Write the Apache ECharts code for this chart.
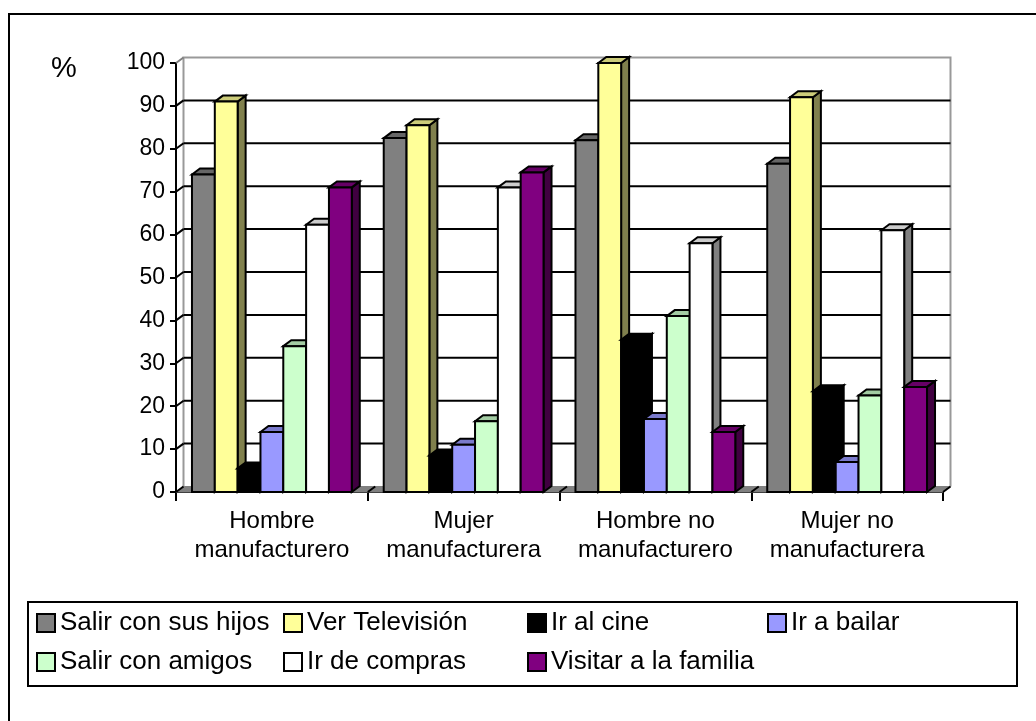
<!DOCTYPE html>
<html>
<head>
<meta charset="utf-8">
<style>html,body{margin:0;padding:0;background:#fff}#c{width:1036px;height:721px}</style>
<script src="https://cdn.jsdelivr.net/npm/echarts@6/dist/echarts.min.js"></script>
</head>
<body>
<div id="c"></div>
<script>
const categories = ['Hombre\nmanufacturero', 'Mujer\nmanufacturera', 'Hombre no\nmanufacturero', 'Mujer no\nmanufacturera'];
const yTicks = [0, 10, 20, 30, 40, 50, 60, 70, 80, 90, 100];
const seriesNames = ['Salir con sus hijos', 'Ver Televisión', 'Ir al cine', 'Ir a bailar', 'Salir con amigos', 'Ir de compras', 'Visitar a la familia'];
const salirHijos = [74, 82.5, 82, 76.5];
const verTele = [91, 85.5, 100, 92];
const irCine = [5.5, 8.5, 35.5, 23.5];
const irBailar = [14, 11, 17, 7];
const salirAmigos = [34, 16.5, 41, 22.5];
const irCompras = [62.3, 71, 58, 61];
const visitarFamilia = [71, 74.5, 14, 24.5];
const seriesValues = [salirHijos, verTele, irCine, irBailar, salirAmigos, irCompras, visitarFamilia];
const frontColors = ['#808080', '#FFFF99', '#000000', '#9999FF', '#CCFFCC', '#FFFFFF', '#800080'];
const topColors = ['#666666', '#CCCC7A', '#000000', '#7A7ACC', '#A3CCA3', '#CCCCCC', '#660066'];
const sideColors = ['#404040', '#80804D', '#000000', '#4D4D80', '#668066', '#808080', '#400040'];
const FONT = '"Liberation Sans", Arial, sans-serif';
const BAR_DX = 8, BAR_DY = 6, WALL_DX = 7.5, WALL_DY = 5.5;

function barItem(params, api) {
  const s = params.seriesIndex - 1;
  const cat = api.value(0), val = api.value(1);
  const band = api.size([1, 0])[0];
  const w = band / 8.4;
  const topC = api.coord([cat, val]);
  const baseC = api.coord([cat, 0]);
  const x0 = topC[0] - band / 2 + 0.7 * w + s * w;
  const x1 = x0 + w;
  const y0 = topC[1], yb = baseC[1];
  const st = c => ({ fill: c, stroke: '#000', lineWidth: 2 });
  return {
    type: 'group',
    children: [
      { type: 'polygon', shape: { points: [[x1, yb], [x1 + BAR_DX, yb - BAR_DY], [x1 + BAR_DX, y0 - BAR_DY], [x1, y0]] }, style: st(sideColors[s]) },
      { type: 'polygon', shape: { points: [[x0, y0], [x0 + BAR_DX, y0 - BAR_DY], [x1 + BAR_DX, y0 - BAR_DY], [x1, y0]] }, style: st(topColors[s]) },
      { type: 'rect', shape: { x: x0, y: y0, width: w, height: yb - y0 }, style: st(frontColors[s]) }
    ]
  };
}

function wallItem(params, api) {
  const cs = params.coordSys;
  const v = api.value(0);
  const p = api.coord([0, v]);
  const left = cs.x, right = cs.x + cs.width, y = p[1];
  const children = [];
  const grey = '#808080';
  if (v === 0) {
    children.push({ type: 'polygon', shape: { points: [[left, y], [left + WALL_DX, y - WALL_DY], [right + WALL_DX, y - WALL_DY], [right, y]] }, style: { fill: grey, stroke: grey, lineWidth: 1 } });
    const yTop = api.coord([0, 100])[1];
    children.push({ type: 'polyline', shape: { points: [[left + WALL_DX, y - WALL_DY], [left + WALL_DX, yTop - WALL_DY], [right + WALL_DX, yTop - WALL_DY], [right + WALL_DX, y - WALL_DY]] }, style: { fill: null, stroke: '#999999', lineWidth: 2 } });
    categories.forEach((c, i) => {
      const xb = left + cs.width * (i + 1) / categories.length;
      children.push({ type: 'line', shape: { x1: xb, y1: y, x2: xb + WALL_DX, y2: y - WALL_DY }, style: { stroke: '#000', lineWidth: 2 } });
    });
  } else {
    const col = v === 100 ? grey : '#000';
    if (v < 100) children.push({ type: 'line', shape: { x1: left + WALL_DX, y1: y - WALL_DY, x2: right + WALL_DX, y2: y - WALL_DY }, style: { stroke: '#000', lineWidth: 2 } });
    children.push({ type: 'line', shape: { x1: left, y1: y, x2: left + WALL_DX, y2: y - WALL_DY }, style: { stroke: col, lineWidth: 2 } });
  }
  if (v === 0) children.push({ type: 'line', shape: { x1: left, y1: y, x2: left + WALL_DX, y2: y - WALL_DY }, style: { stroke: '#000', lineWidth: 2 } });
  return { type: 'group', children };
}

const legendText = { fontFamily: FONT, fontSize: 26, color: '#000' };
function legendCol(names, left) {
  return {
    orient: 'vertical', left, top: 610, data: names, icon: 'rect',
    itemWidth: 18, itemHeight: 18, itemGap: 13, padding: 0,
    selectedMode: false, textStyle: legendText,
    itemStyle: { borderColor: '#000', borderWidth: 2 }
  };
}

const chart = echarts.init(document.getElementById('c'), null, { renderer: 'canvas' });
chart.setOption({
  animation: false,
  backgroundColor: '#fff',
  title: { text: '%', left: 51, top: 54, padding: 0, textStyle: { fontFamily: FONT, fontSize: 29, fontWeight: 'normal', color: '#000' } },
  grid: { left: 176, right: 93, top: 63, bottom: 229, containLabel: false },
  xAxis: {
    type: 'category', data: categories,
    axisLine: { show: true, lineStyle: { color: '#000', width: 2 } },
    axisTick: { show: true, length: 9, lineStyle: { color: '#000', width: 2 } },
    axisLabel: { fontFamily: FONT, fontSize: 24, color: '#000', margin: 15, lineHeight: 29, interval: 0 },
    splitLine: { show: false }
  },
  yAxis: {
    type: 'value', min: 0, max: 100, interval: 10,
    axisLine: { show: true, lineStyle: { color: '#000', width: 2 } },
    axisTick: { show: true, length: 6, lineStyle: { color: '#000', width: 2 } },
    axisLabel: { fontFamily: FONT, fontSize: 23, color: '#000', margin: 11 },
    splitLine: { show: false }
  },
  legend: [
    legendCol([seriesNames[0], seriesNames[4]], 36),
    legendCol([seriesNames[1], seriesNames[5]], 283),
    legendCol([seriesNames[2], seriesNames[6]], 527),
    legendCol([seriesNames[3]], 767)
  ],
  graphic: [
    { type: 'rect', silent: true, z: -1, shape: { x: 9, y: 14, width: 1200, height: 900 }, style: { fill: null, stroke: '#000', lineWidth: 2 } },
    { type: 'rect', silent: true, z: -1, shape: { x: 28, y: 602, width: 989, height: 84 }, style: { fill: null, stroke: '#000', lineWidth: 2 } }
  ],
  series: [
    { type: 'custom', silent: true, coordinateSystem: 'cartesian2d', clip: false, z: 1,
      data: yTicks.map(v => [v]), encode: { y: 0 }, renderItem: wallItem }
  ].concat(seriesNames.map((name, s) => ({
    type: 'custom', name, coordinateSystem: 'cartesian2d', clip: false, z: 2,
    itemStyle: { color: frontColors[s], borderColor: '#000', borderWidth: 2 },
    encode: { x: 0, y: 1 },
    data: seriesValues[s].map((v, i) => [i, v]),
    renderItem: barItem
  })))
});
</script>
</body>
</html>
